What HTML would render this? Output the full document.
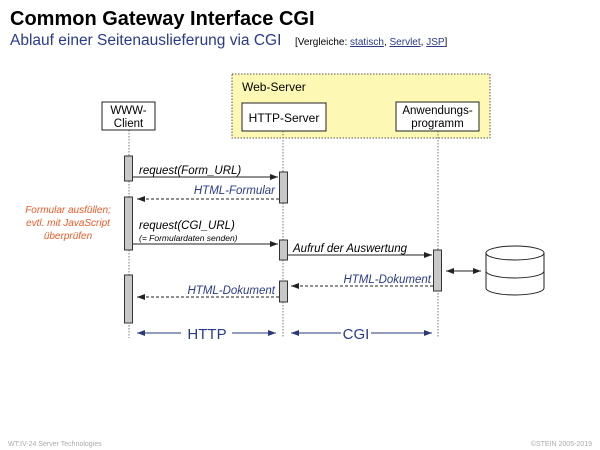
<!DOCTYPE html>
<html><head><meta charset="utf-8"><style>
html,body{margin:0;padding:0;background:#fff;}
svg{display:block;font-family:"Liberation Sans",sans-serif;}
</style></head><body>
<svg width="600" height="450" viewBox="0 0 600 450" xmlns="http://www.w3.org/2000/svg">
<defs>
<marker id="a" markerWidth="8" markerHeight="6" refX="8" refY="3" orient="auto" markerUnits="userSpaceOnUse"><path d="M0,0 L8,3 L0,6 z" fill="#222"/></marker>
<marker id="ab" markerWidth="8" markerHeight="6" refX="8" refY="3" orient="auto" markerUnits="userSpaceOnUse"><path d="M0,0 L8,3 L0,6 z" fill="#2a3a7a"/></marker>
<marker id="as" markerWidth="8" markerHeight="6" refX="0" refY="3" orient="auto" markerUnits="userSpaceOnUse"><path d="M8,0 L0,3 L8,6 z" fill="#2a3a7a"/></marker>
<marker id="ak" markerWidth="8" markerHeight="6" refX="0" refY="3" orient="auto" markerUnits="userSpaceOnUse"><path d="M8,0 L0,3 L8,6 z" fill="#222"/></marker>
</defs>
<text x="10" y="25" font-size="20" font-weight="bold" fill="#000">Common Gateway Interface CGI</text>
<text x="10" y="45" font-size="15.5" fill="#2a3a8a">Ablauf einer Seitenauslieferung via CGI</text>
<text x="295" y="45" font-size="10" fill="#000">[Vergleiche: <tspan fill="#2a3a8a" text-decoration="underline">statisch</tspan>, <tspan fill="#2a3a8a" text-decoration="underline">Servlet</tspan>, <tspan fill="#2a3a8a" text-decoration="underline">JSP</tspan>]</text>

<rect x="232" y="74" width="258" height="64" fill="#fdf9b4" stroke="#555" stroke-dasharray="1.5,1.5"/>
<text x="242" y="91" font-size="12">Web-Server</text>

<g stroke="#777" stroke-dasharray="1.5,1.5" stroke-width="1">
<line x1="129" y1="130" x2="129" y2="338"/>
<line x1="283" y1="131" x2="283" y2="338"/>
<line x1="438" y1="131" x2="438" y2="338"/>
</g>

<rect x="102" y="102" width="53" height="28" fill="#fff" stroke="#222"/>
<text x="128.5" y="114" font-size="11.5" text-anchor="middle">WWW-</text>
<text x="128.5" y="127" font-size="11.5" text-anchor="middle">Client</text>
<rect x="242" y="103" width="84" height="28" fill="#fff" stroke="#222"/>
<text x="284" y="122" font-size="12" text-anchor="middle">HTTP-Server</text>
<rect x="396" y="102" width="83" height="29" fill="#fff" stroke="#222"/>
<text x="437.5" y="114" font-size="11.5" text-anchor="middle">Anwendungs-</text>
<text x="437.5" y="127" font-size="11.5" text-anchor="middle">programm</text>

<g fill="#c8c8c8" stroke="#333">
<rect x="124.5" y="156" width="8" height="25"/>
<rect x="124.5" y="197" width="8" height="53"/>
<rect x="124.5" y="275" width="8" height="48"/>
<rect x="279.5" y="172" width="8" height="31"/>
<rect x="279.5" y="240" width="8" height="20"/>
<rect x="279.5" y="281" width="8" height="21"/>
<rect x="433.5" y="250" width="8" height="41"/>
</g>

<g font-size="11.5" font-style="italic">
<text x="139" y="174">request(Form_URL)</text>
<line x1="133" y1="177" x2="278" y2="177" stroke="#222" marker-end="url(#a)"/>
<text x="275" y="194" text-anchor="end" fill="#2a3a8a">HTML-Formular</text>
<line x1="279" y1="199" x2="137" y2="199" stroke="#222" stroke-dasharray="3,2" marker-end="url(#a)"/>
<text x="139" y="229">request(CGI_URL)</text>
<text x="139" y="241" font-size="8.5">(= Formulardaten senden)</text>
<line x1="133" y1="244" x2="278" y2="244" stroke="#222" marker-end="url(#a)"/>
<text x="293" y="252">Aufruf der Auswertung</text>
<line x1="288" y1="255" x2="432" y2="255" stroke="#222" marker-end="url(#a)"/>
<text x="431" y="283" text-anchor="end" fill="#2a3a8a">HTML-Dokument</text>
<line x1="433" y1="286" x2="291" y2="286" stroke="#222" stroke-dasharray="3,2" marker-end="url(#a)"/>
<text x="275" y="294" text-anchor="end" fill="#2a3a8a">HTML-Dokument</text>
<line x1="279" y1="297" x2="137" y2="297" stroke="#222" stroke-dasharray="3,2" marker-end="url(#a)"/>
</g>

<g font-size="10" font-style="italic" fill="#f05a28" text-anchor="middle">
<text x="68" y="213">Formular ausfüllen;</text>
<text x="68" y="226">evtl. mit JavaScript</text>
<text x="68" y="239">überprüfen</text>
</g>

<line x1="446" y1="271" x2="481" y2="271" stroke="#222" marker-start="url(#ak)" marker-end="url(#a)"/>
<g fill="#fff" stroke="#222" stroke-width="1">
<path d="M486,253 L486,288 A29,7 0 0 0 544,288 L544,253"/>
<ellipse cx="515" cy="253" rx="29" ry="7"/>
<path d="M486,271 A29,7 0 0 0 544,271" fill="none"/>
</g>

<g stroke="#2a3a7a">
<line x1="137" y1="333" x2="181" y2="333" marker-start="url(#as)"/>
<line x1="232" y1="333" x2="276" y2="333" marker-end="url(#ab)"/>
<line x1="291" y1="333" x2="341" y2="333" marker-start="url(#as)"/>
<line x1="371" y1="333" x2="432" y2="333" marker-end="url(#ab)"/>
</g>
<text x="207" y="339" font-size="15" fill="#2a3a8a" text-anchor="middle">HTTP</text>
<text x="356" y="339" font-size="15" fill="#2a3a8a" text-anchor="middle">CGI</text>

<text x="8" y="446" font-size="7" fill="#aaa">WT:IV-24   Server Technologies</text>
<text x="592" y="446" font-size="7" fill="#aaa" text-anchor="end">©STEIN 2005-2019</text>
</svg>
</body></html>
